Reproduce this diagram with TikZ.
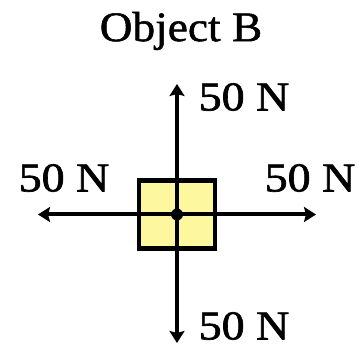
\documentclass[tikz,border=0pt]{standalone}
\usepackage{fontspec}
\setmainfont{Liberation Serif}
\newfontfamily\lblfont[FakeStretch=1.12,FakeBold=1.6]{Liberation Serif}
\newfontfamily\ttlfont[FakeStretch=1.08,FakeBold=1.2]{Liberation Serif}
\usetikzlibrary{arrows.meta}
\definecolor{boxyellow}{RGB}{253,247,160}
\tikzset{
  force/.style={line width=4pt,-{Stealth[length=12pt,width=15pt,inset=2pt]}},
  lbl/.style={font=\lblfont\fontsize{41}{41}\selectfont,inner sep=0pt},
  ttl/.style={font=\ttlfont\fontsize{42}{42}\selectfont,inner sep=0pt},
  objbox/.style={draw,line width=4.5pt,fill=boxyellow,minimum width=76pt,minimum height=68pt,inner sep=0pt}
}
\begin{document}
\begin{tikzpicture}[x=1pt,y=-1pt]
\useasboundingbox (0,0) rectangle (364,347);
\node[objbox] (box) at (177,214.5) {};
\coordinate (c) at (177,214.5);
\coordinate (tT) at (177,84);
\coordinate (tB) at (177,343);
\coordinate (tL) at (38,214.5);
\coordinate (tR) at (316,214.5);
\draw[force] (c) -- (tT);
\draw[force] (c) -- (tB);
\draw[force] (c) -- (tL);
\draw[force] (c) -- (tR);
\fill (c) circle (6pt);
\node[ttl] (title) at (181,31) {Object B};
\node[lbl] (lT) at (244,97) {50 N};
\node[lbl] (lB) at (244,326) {50 N};
\node[lbl] (lL) at (64,178) {50 N};
\node[lbl] (lR) at (310,178) {50 N};
\end{tikzpicture}
\end{document}
